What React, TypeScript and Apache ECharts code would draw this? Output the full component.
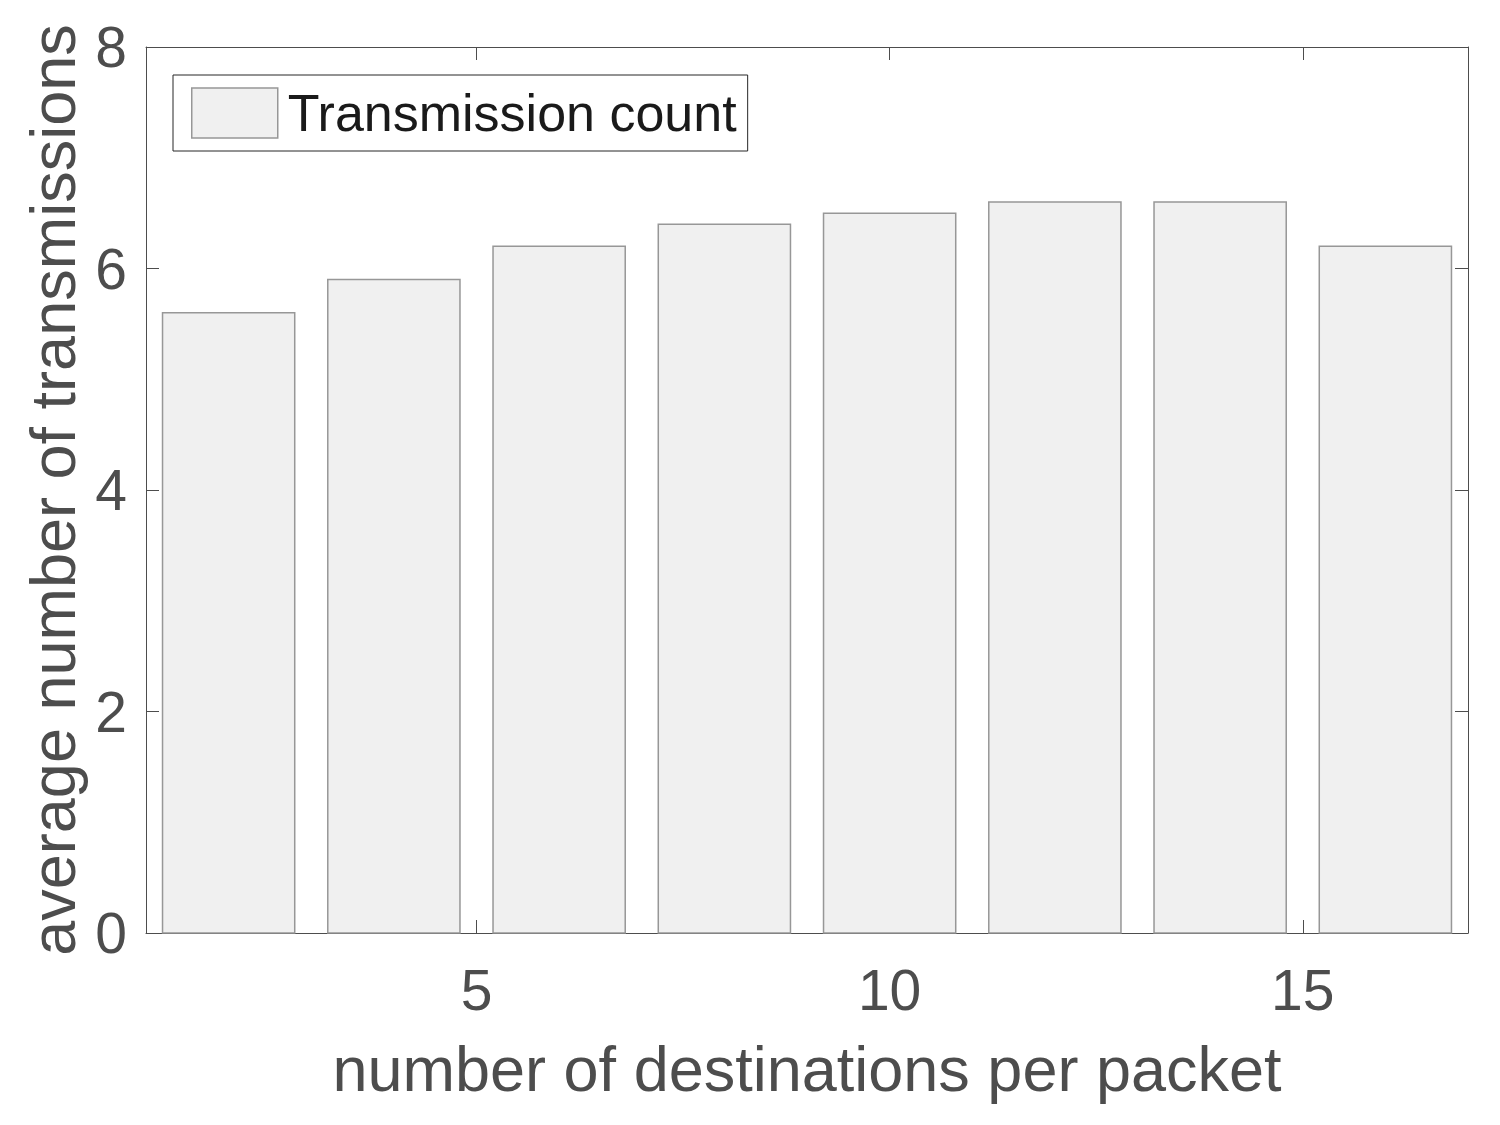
import React, { useEffect, useRef } from "react";
import * as echarts from "echarts";

const destinations = [2, 4, 6, 8, 10, 12, 14, 16];
const transmissions = [5.6, 5.9, 6.2, 6.4, 6.5, 6.6, 6.6, 6.2];
const xTickValues = [5, 10, 15];
const seriesName = "Transmission count";
const xTitle = "number of destinations per packet";
const yTitle = "average number of transmissions";

const FONT = "'Liberation Sans', Arial, Helvetica, sans-serif";
const AXIS_COLOR = "#4d4d4d";
const BAR_FILL = "#f0f0f0";
const BAR_EDGE = "#979797";
const BAR_WIDTH_UNITS = 1.6;

export default function App() {
  const ref = useRef<HTMLDivElement>(null);

  useEffect(() => {
    if (!ref.current) return;
    const chart = echarts.init(ref.current, undefined, { renderer: "svg" });

    const lineStyle = { color: AXIS_COLOR, width: 1 };
    const tick = { show: true, inside: true, length: 13, lineStyle };

    chart.setOption({
      animation: false,
      backgroundColor: "#ffffff",
      grid: { left: 146, right: 32, top: 47, bottom: 192, containLabel: false },
      legend: {
        show: true,
        left: 173,
        top: 75,
        orient: "horizontal",
        padding: [12, 11, 12, 18],
        borderColor: "#262626",
        borderWidth: 1,
        backgroundColor: "#ffffff",
        itemWidth: 86,
        itemHeight: 50,
        itemGap: 0,
        textStyle: {
          fontSize: 52,
          fontFamily: FONT,
          color: "#1a1a1a",
          padding: [2, 0, 0, 5],
        },
        data: [
          {
            name: seriesName,
            icon: "rect",
            itemStyle: { color: BAR_FILL, borderColor: BAR_EDGE, borderWidth: 1.5 },
          },
        ],
      },
      xAxis: [
        {
          type: "value",
          position: "bottom",
          min: 1,
          max: 17,
          axisLine: { show: true, onZero: false, lineStyle },
          axisTick: { ...tick, customValues: xTickValues },
          axisLabel: {
            show: true,
            customValues: xTickValues,
            fontSize: 57,
            fontFamily: FONT,
            color: AXIS_COLOR,
            margin: 28,
          },
          splitLine: { show: false },
          name: xTitle,
          nameLocation: "middle",
          nameGap: 104,
          nameTextStyle: { fontSize: 63, fontFamily: FONT, color: AXIS_COLOR },
        },
        {
          type: "value",
          position: "top",
          min: 1,
          max: 17,
          axisLine: { show: true, onZero: false, lineStyle },
          axisTick: { ...tick, customValues: xTickValues },
          axisLabel: { show: false },
          splitLine: { show: false },
        },
      ],
      yAxis: [
        {
          type: "value",
          position: "left",
          min: 0,
          max: 8,
          interval: 2,
          axisLine: { show: true, onZero: false, lineStyle },
          axisTick: tick,
          axisLabel: {
            show: true,
            fontSize: 57,
            fontFamily: FONT,
            color: AXIS_COLOR,
            margin: 19,
          },
          splitLine: { show: false },
          name: yTitle,
          nameLocation: "middle",
          nameGap: 60,
          nameRotate: 90,
          nameTextStyle: { fontSize: 63, fontFamily: FONT, color: AXIS_COLOR },
        },
        {
          type: "value",
          position: "right",
          min: 0,
          max: 8,
          interval: 2,
          axisLine: { show: true, onZero: false, lineStyle },
          axisTick: tick,
          axisLabel: { show: false },
          splitLine: { show: false },
        },
      ],
      series: [
        {
          name: seriesName,
          type: "custom",
          xAxisIndex: 0,
          yAxisIndex: 0,
          itemStyle: { color: BAR_FILL, borderColor: BAR_EDGE },
          encode: { x: 0, y: 1 },
          data: destinations.map((d, i) => [d, transmissions[i]]),
          renderItem: (params: any, api: any) => {
            const x = api.value(0);
            const y = api.value(1);
            const base = api.coord([x, 0]);
            const top = api.coord([x, y]);
            const w = api.size([BAR_WIDTH_UNITS, 0])[0];
            return {
              type: "rect",
              shape: {
                x: base[0] - w / 2,
                y: top[1],
                width: w,
                height: base[1] - top[1],
              },
              style: { fill: BAR_FILL, stroke: BAR_EDGE, lineWidth: 1.5 },
            };
          },
        },
      ],
    });

    return () => {
      chart.dispose();
    };
  }, []);

  return (
    <div
      ref={ref}
      style={{
        position: "fixed",
        left: 0,
        top: 0,
        width: 1500,
        height: 1125,
        background: "#ffffff",
      }}
    />
  );
}
